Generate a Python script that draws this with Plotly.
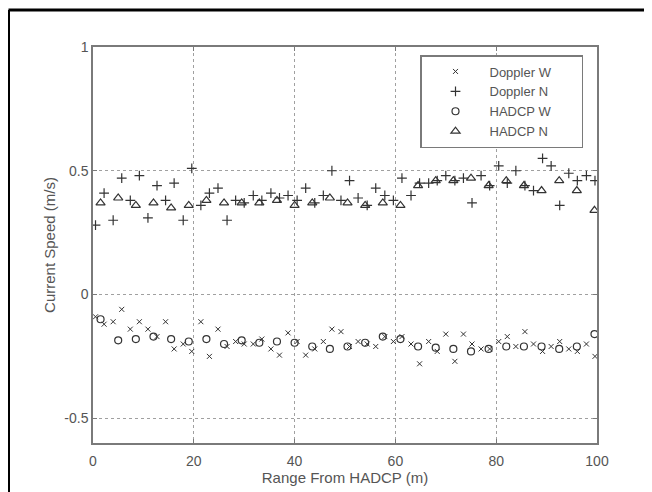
import plotly.graph_objects as go

# ---- data ----
doppler_x = [0.5, 2.2, 4.0, 5.7, 7.4, 9.2, 10.9, 12.7, 14.4, 16.1, 17.9, 19.6, 21.4, 23.1, 24.8,
             26.6, 28.3, 30.0, 31.8, 33.5, 35.3, 37.0, 38.7, 40.5, 42.2, 44.0, 45.7, 47.4, 49.2,
             50.9, 52.6, 54.4, 56.1, 57.9, 59.6, 61.3, 63.1, 64.8, 66.6, 68.3, 70.0, 71.8, 73.5,
             75.2, 77.0, 78.7, 80.5, 82.2, 83.9, 85.7, 87.4, 89.2, 90.9, 92.6, 94.4, 96.1, 97.9, 99.6]
doppler_w = [-0.09, -0.12, -0.11, -0.06, -0.14, -0.11, -0.14, -0.17, -0.11, -0.22, -0.20, -0.23,
             -0.11, -0.25, -0.14, -0.21, -0.19, -0.20, -0.20, -0.18, -0.22, -0.245, -0.155, -0.19,
             -0.245, -0.22, -0.19, -0.14, -0.15, -0.21, -0.19, -0.20, -0.21, -0.17, -0.19, -0.17,
             -0.20, -0.28, -0.19, -0.23, -0.16, -0.27, -0.16, -0.20, -0.22, -0.22, -0.19, -0.17,
             -0.21, -0.15, -0.20, -0.23, -0.21, -0.19, -0.22, -0.23, -0.20, -0.25]
doppler_n = [0.28, 0.41, 0.30, 0.47, 0.38, 0.48, 0.31, 0.44, 0.38, 0.45, 0.30, 0.51, 0.36, 0.41,
             0.43, 0.30, 0.38, 0.37, 0.40, 0.38, 0.41, 0.39, 0.40, 0.38, 0.43, 0.37, 0.40, 0.50,
             0.38, 0.46, 0.39, 0.36, 0.43, 0.40, 0.38, 0.47, 0.40, 0.45, 0.45, 0.46, 0.48, 0.46,
             0.47, 0.37, 0.48, 0.44, 0.52, 0.45, 0.50, 0.44, 0.42, 0.55, 0.52, 0.36, 0.49, 0.46,
             0.48, 0.46]

hadcp_x = [1.5, 5, 8.5, 12, 15.5, 19, 22.5, 26, 29.5, 33, 36.5, 40, 43.5, 47, 50.5, 54, 57.5,
           61, 64.5, 68, 71.5, 75, 78.5, 82, 85.5, 89, 92.5, 96, 99.5]
hadcp_w = [-0.10, -0.185, -0.18, -0.17, -0.18, -0.19, -0.18, -0.20, -0.185, -0.195, -0.19,
           -0.195, -0.21, -0.22, -0.21, -0.195, -0.17, -0.18, -0.21, -0.215, -0.22, -0.23,
           -0.22, -0.21, -0.21, -0.21, -0.22, -0.21, -0.16]
hadcp_n = [0.37, 0.39, 0.36, 0.37, 0.35, 0.36, 0.38, 0.37, 0.37, 0.37, 0.38, 0.36, 0.37, 0.39,
           0.37, 0.36, 0.37, 0.36, 0.44, 0.46, 0.46, 0.47, 0.44, 0.46, 0.44, 0.42, 0.46, 0.42, 0.34]

series_names = ["Doppler W", "Doppler N", "HADCP W", "HADCP N"]
x_ticks = [0, 20, 40, 60, 80, 100]
y_ticks = [-0.5, 0, 0.5, 1]
y_tick_labels = ["-0.5", "0", "0.5", "1"]

# ---- styling ----
MC = "#333333"
AX = "#7a7a7a"
TXT = "#555555"
FONT = "Liberation Sans, Arial, sans-serif"
PAD = "\u00a0" * 7  # widen legend box like the original

fig = go.Figure()
fig.add_trace(go.Scatter(x=doppler_x, y=doppler_w, mode="markers", name=series_names[0] + PAD,
                         marker=dict(symbol="x-thin-open", size=5, color=MC,
                                     line=dict(width=1, color=MC))))
fig.add_trace(go.Scatter(x=doppler_x, y=doppler_n, mode="markers", name=series_names[1] + PAD,
                         marker=dict(symbol="cross-thin-open", size=7, color=MC,
                                     line=dict(width=1.2, color=MC))))
fig.add_trace(go.Scatter(x=hadcp_x, y=hadcp_w, mode="markers", name=series_names[2] + PAD,
                         marker=dict(symbol="circle-open", size=7, color=MC,
                                     line=dict(width=1.2, color=MC))))
fig.add_trace(go.Scatter(x=hadcp_x, y=hadcp_n, mode="markers", name=series_names[3] + PAD,
                         marker=dict(symbol="triangle-up-open", size=8, color=MC,
                                     line=dict(width=1.2, color=MC))))

axis_common = dict(showline=True, linecolor=AX, linewidth=1.5, mirror="ticks",
                   ticks="inside", ticklen=4, tickcolor=AX, tickwidth=1,
                   showgrid=True, gridcolor="#a0a0a0", gridwidth=1, griddash="dot",
                   zeroline=False, automargin=False,
                   tickfont=dict(family=FONT, size=14, color=TXT))

fig.update_xaxes(range=[0, 100], tickvals=x_ticks, ticktext=[str(v) for v in x_ticks],
                 ticklabelstandoff=4,
                 title=dict(text="Range From HADCP (m)", font=dict(family=FONT, size=15, color=TXT),
                            standoff=5),
                 **axis_common)
fig.update_yaxes(range=[-0.6, 1], tickvals=y_ticks, ticktext=y_tick_labels,
                 title=dict(text="Current Speed (m/s)", font=dict(family=FONT, size=15, color=TXT),
                            standoff=5),
                 **axis_common)

# page body has an 8px margin; offset the figure so the plot sits where the original's does
W, H = 644, 484
ML, MR, MT, MB = 85, 55, 39, 49
pw, ph = W - ML - MR, H - MT - MB

# outer black frame (top and left edges as in the scan)
fx = (0.5 - ML) / pw
fy = (H - MB - 2) / ph
fig.add_shape(type="line", xref="paper", yref="paper", x0=fx, y0=fy, x1=(W - ML) / pw, y1=fy,
              line=dict(color="black", width=3))
fig.add_shape(type="line", xref="paper", yref="paper", x0=fx, y0=fy, x1=fx, y1=-MB / ph,
              line=dict(color="black", width=3))

fig.update_layout(
    width=W, height=H,
    margin=dict(l=ML, r=MR, t=MT, b=MB, autoexpand=False),
    paper_bgcolor="white", plot_bgcolor="white",
    font=dict(family=FONT, size=13, color=TXT),
    showlegend=True,
    legend=dict(x=(420 - 93) / pw, y=(443 - 55) / ph, xanchor="left", yanchor="top",
                bgcolor="white", bordercolor=AX, borderwidth=1.5,
                font=dict(family=FONT, size=13, color=TXT),
                itemwidth=58, tracegroupgap=0),
)

fig.write_html("out.html")
